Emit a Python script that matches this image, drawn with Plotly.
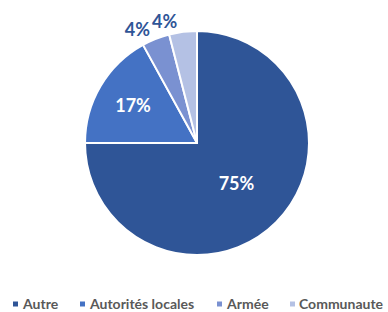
import plotly.graph_objects as go

labels = ["Autre", "Autorités locales", "Armée", "Communaute"]
values = [75, 17, 4, 4]
colors = ["#2F5597", "#4472C4", "#7A91D1", "#B4C1E4"]
inside_slices = [True, True, False, False]

W, H = 388, 312
DOMAIN = dict(x=[0.0155, 1.0], y=[0.1827, 0.9006])
LABEL_FONT = dict(family="Lato", size=18, weight="bold")


def pie_layer(textpos, marker):
    return go.Pie(
        labels=labels,
        values=values,
        sort=False,
        direction="clockwise",
        rotation=0,
        marker=marker,
        texttemplate="%{percent:.0%}",
        textposition=textpos,
        insidetextorientation="horizontal",
        insidetextfont=dict(color="white", **LABEL_FONT),
        outsidetextfont=dict(color="#2F5597", **LABEL_FONT),
        domain=DOMAIN,
        automargin=False,
        hoverinfo="skip",
        showlegend=False,
    )


fig = go.Figure()
# Main pie with the inside labels
fig.add_trace(pie_layer(
    ["inside" if f else "none" for f in inside_slices],
    dict(colors=colors, line=dict(color="white", width=2)),
))
# Transparent overlays carrying each small slice's outside label separately
clear = dict(colors=["rgba(0,0,0,0)"] * len(values), line=dict(width=0))
for i, f in enumerate(inside_slices):
    if not f:
        fig.add_trace(pie_layer(
            ["outside" if j == i else "none" for j in range(len(values))],
            clear,
        ))

# Manual single-row legend (Excel style, clipped at the right edge)
legend_marker_px = [13, 80, 217, 290]
legend_y_px = 303
marker_size = 5
shapes = []
annotations = []
for lab, col, mx in zip(labels, colors, legend_marker_px):
    shapes.append(dict(
        type="rect", xref="paper", yref="paper",
        x0=mx / W, x1=(mx + marker_size) / W,
        y0=1 - (legend_y_px + 1 + marker_size / 2) / H,
        y1=1 - (legend_y_px + 1 - marker_size / 2) / H,
        fillcolor=col, line=dict(width=0),
    ))
    annotations.append(dict(
        text=lab, xref="paper", yref="paper",
        x=(mx + 7) / W, y=1 - legend_y_px / H,
        xanchor="left", yanchor="middle", showarrow=False,
        font=dict(family="Lato", size=14, color="#595959", weight="bold"),
    ))

fig.update_layout(
    width=W, height=H,
    margin=dict(l=0, r=0, t=0, b=0, autoexpand=False),
    paper_bgcolor="white",
    plot_bgcolor="white",
    showlegend=False,
    shapes=shapes,
    annotations=annotations,
)

fig.write_html(
    "out.html",
    config={"displayModeBar": False},
    post_script="document.body.style.margin='0';document.body.style.overflow='hidden';",
)
